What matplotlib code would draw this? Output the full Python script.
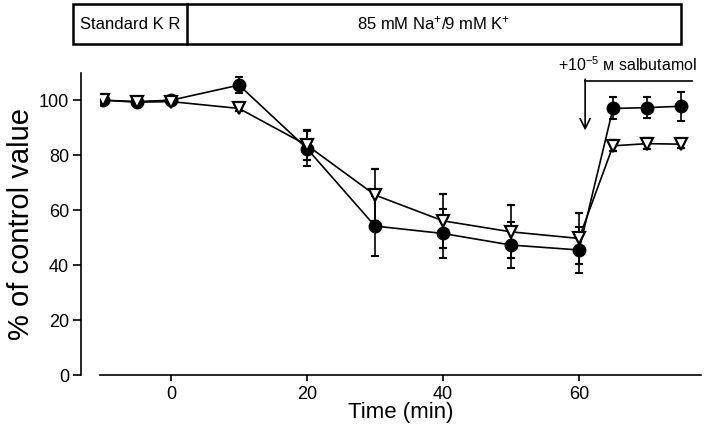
import matplotlib
matplotlib.use("Agg")
import matplotlib.pyplot as plt
from matplotlib.patches import Rectangle

plt.rcParams['font.family'] = ['Liberation Sans', 'DejaVu Sans']
plt.rcParams['mathtext.fontset'] = 'custom'
plt.rcParams['mathtext.rm'] = 'Liberation Sans'
plt.rcParams['mathtext.it'] = 'Liberation Sans:italic'
plt.rcParams['mathtext.bf'] = 'Liberation Sans:bold'

# ---- data ----
time = [-10, -5, 0, 10, 20, 30, 40, 50, 60, 65, 70, 75]
filled_vals = [100, 99.5, 100, 105.5, 82.4, 54.2, 51.5, 47.3, 45.5, 97.0, 97.3, 97.8]
filled_err = [0.5, 0.5, 0.5, 3.0, 6.5, 11.0, 9.0, 8.5, 8.5, 4.0, 3.8, 5.3]
open_vals = [100, 99.3, 99.5, 97.0, 83.6, 65.5, 56.1, 52.1, 49.7, 83.4, 84.2, 84.0]
open_err = [0.5, 0.5, 0.5, 1.0, 5.5, 9.5, 9.7, 9.7, 9.3, 2.0, 2.0, 1.5]
xticks = [0, 20, 40, 60]
yticks = [0, 20, 40, 60, 80, 100]
box_labels = ["Standard K R", "85 mM Na$^{+}$/9 mM K$^{+}$"]
arrow_label = "+10$^{-5}$ ᴍ salbutamol"

fig = plt.figure(figsize=(7.06, 4.4), dpi=100)
ax = fig.add_axes([0.1411, 0.1477, 0.8524, 0.687])

ax.errorbar(time, filled_vals, yerr=filled_err, fmt='-o', color='black',
            markersize=9, linewidth=1.2, elinewidth=1.2, capsize=3.2,
            capthick=1.5, zorder=3)
ax.errorbar(time, open_vals, yerr=open_err, fmt='-v', color='black',
            markerfacecolor='white', markeredgecolor='black', markeredgewidth=1.6,
            markersize=8.5, linewidth=1.2, elinewidth=1.2, capsize=3.2,
            capthick=1.5, zorder=4)

ax.set_xlim(-10.5, 78)
ax.set_ylim(0, 110)
ax.set_xticks(xticks)
ax.set_yticks(yticks)
ax.tick_params(axis='y', direction='out', length=5.5, width=1.2, labelsize=13, pad=3)
ax.tick_params(axis='x', direction='out', length=4, width=1.2, labelsize=13, pad=4)
for s in ['top', 'right']:
    ax.spines[s].set_visible(False)
ax.spines['left'].set_position(('outward', 13.4))
ax.spines['left'].set_bounds(0, 110)
ax.spines['left'].set_linewidth(1.2)
ax.spines['bottom'].set_linewidth(1.2)

ax.set_xlabel("Time (min)", fontsize=16, labelpad=-1)
ax.set_ylabel("% of control value", fontsize=21, labelpad=3)

# salbutamol annotation
ax.plot([60.9, 76.6], [107, 107], color='black', linewidth=1.2, clip_on=False)
ax.annotate("", xy=(60.9, 89), xytext=(60.9, 107.6),
            arrowprops=dict(arrowstyle='->', color='black', lw=1.2,
                            mutation_scale=18, shrinkA=0, shrinkB=0),
            annotation_clip=False)
ax.text(67.1, 109.6, arrow_label, fontsize=11.5, ha='center', va='bottom',
        clip_on=False)

# top condition box
bx = fig.add_axes([0.103, 0.9, 0.8616, 0.09])
bx.set_xlim(0, 1)
bx.set_ylim(0, 1)
bx.axis('off')
bx.add_patch(Rectangle((0, 0), 1, 1, fill=False, edgecolor='black', linewidth=1.8,
                       clip_on=False))
div = (186.7 - 72.7) / (681 - 72.7)
bx.plot([div, div], [0, 1], color='black', linewidth=1.8, clip_on=False)
bx.text(div / 2, 0.5, box_labels[0], ha='center', va='center', fontsize=12)
bx.text((div + 1) / 2, 0.52, box_labels[1], ha='center', va='center', fontsize=12)

fig.savefig("out.png", dpi=100)
